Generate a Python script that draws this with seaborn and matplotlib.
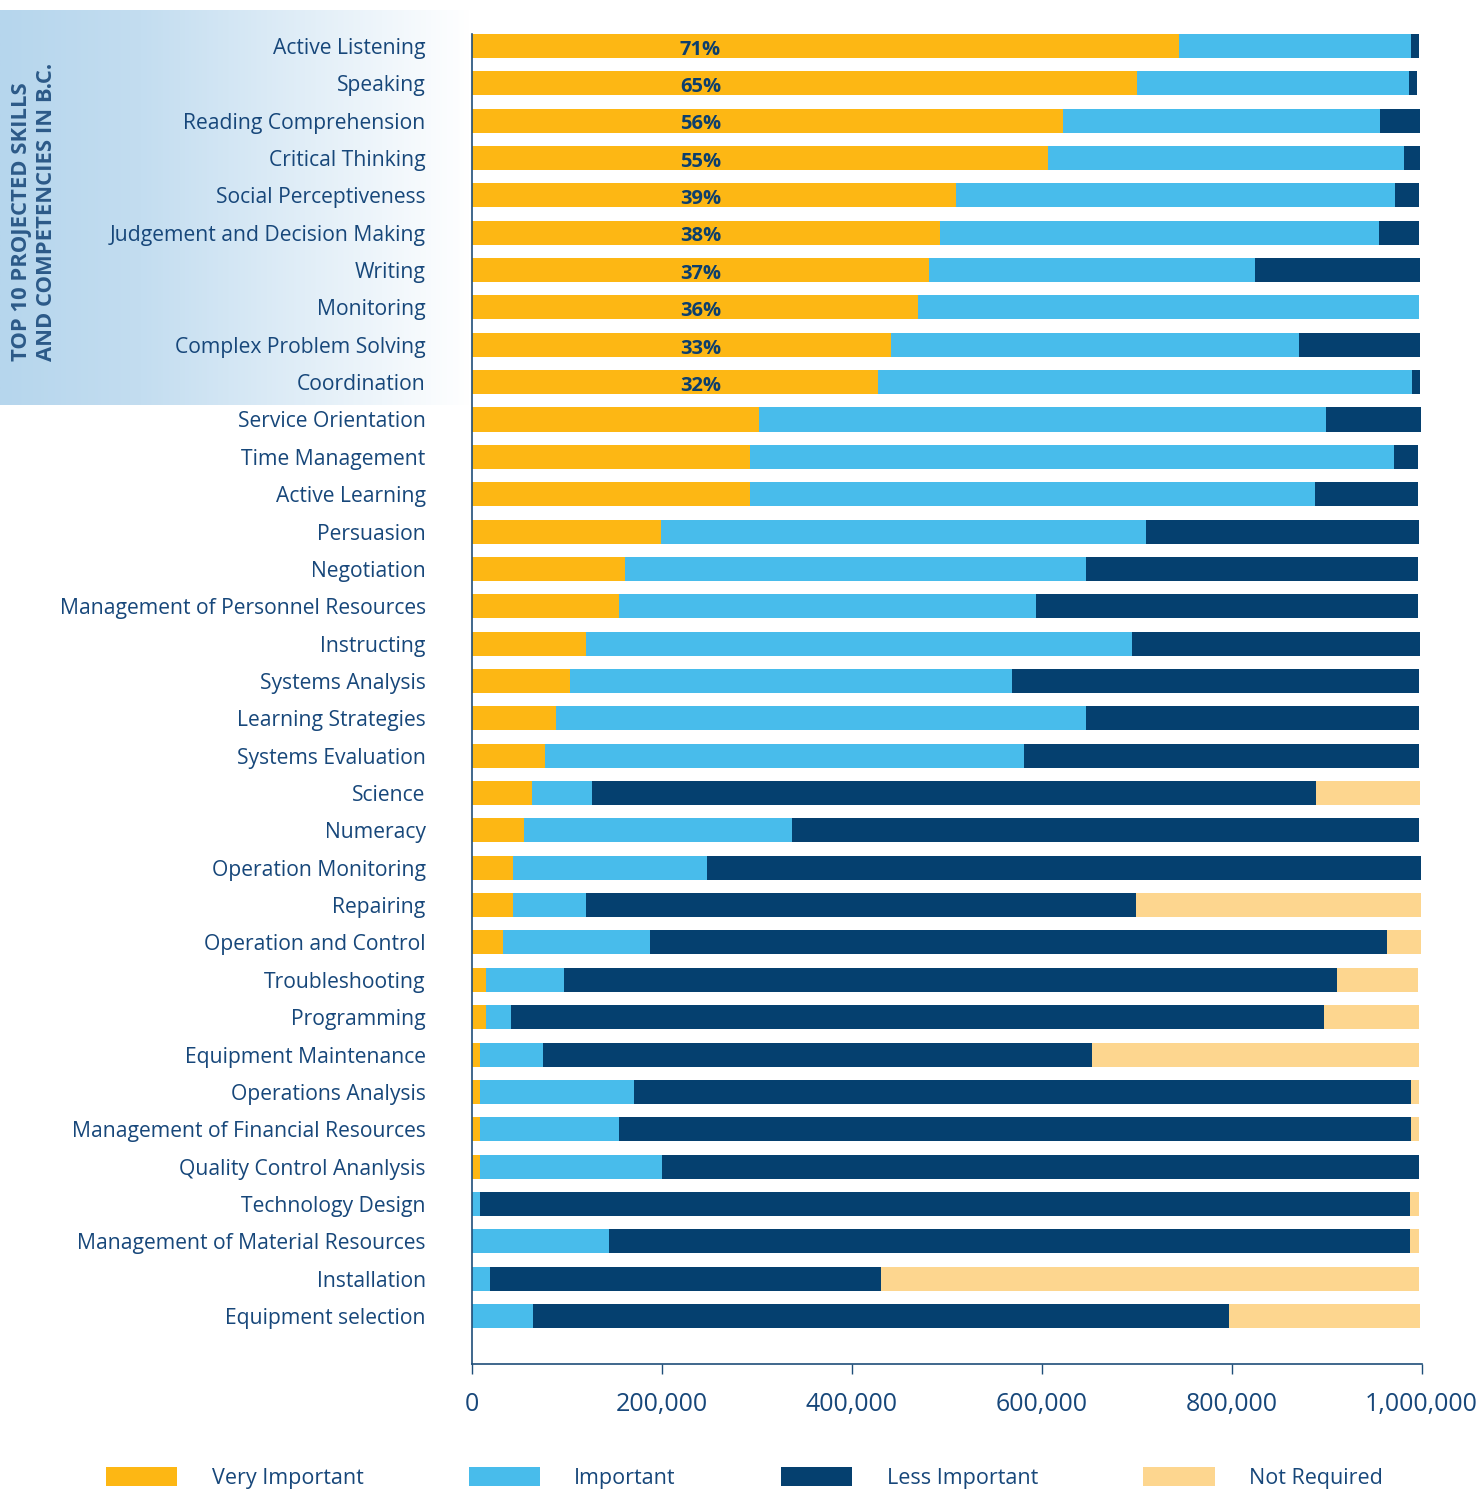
import matplotlib
matplotlib.use("Agg")

import matplotlib.pyplot as plt
import numpy as np
import seaborn as sns
from matplotlib.colors import LinearSegmentedColormap
from matplotlib.patches import Patch
from matplotlib.ticker import StrMethodFormatter

# --- data (workers) ---------------------------------------------------------
skills = [
    "Active Listening", "Speaking", "Reading Comprehension", "Critical Thinking",
    "Social Perceptiveness", "Judgement and Decision Making", "Writing", "Monitoring",
    "Complex Problem Solving", "Coordination", "Service Orientation", "Time Management",
    "Active Learning", "Persuasion", "Negotiation", "Management of Personnel Resources",
    "Instructing", "Systems Analysis", "Learning Strategies", "Systems Evaluation",
    "Science", "Numeracy", "Operation Monitoring", "Repairing", "Operation and Control",
    "Troubleshooting", "Programming", "Equipment Maintenance", "Operations Analysis",
    "Management of Financial Resources", "Quality Control Ananlysis", "Technology Design",
    "Management of Material Resources", "Installation", "Equipment selection",
]
very_important = [
    745000, 700000, 623000, 607000, 510000, 493000, 482000, 470000, 442000, 428000,
    303000, 293000, 293000, 199000, 162000, 155000, 121000, 104000, 89000, 77000,
    64000, 55000, 44000, 44000, 33000, 15000, 15000, 9000, 9000, 9000,
    9000, 0, 1000, 0, 0,
]
important = [
    244000, 287000, 333000, 375000, 462000, 462000, 343000, 527000, 429000, 562000,
    596000, 678000, 595000, 511000, 485000, 439000, 574000, 465000, 558000, 505000,
    63000, 282000, 204000, 76000, 155000, 82000, 27000, 66000, 162000, 146000,
    191000, 9000, 144000, 19000, 65000,
]
less_important = [
    8000, 8000, 42000, 16000, 25000, 42000, 173000, 0, 127000, 8000,
    100000, 25000, 108000, 287000, 349000, 402000, 303000, 428000, 350000, 415000,
    762000, 660000, 751000, 579000, 776000, 814000, 855000, 578000, 818000, 834000,
    797000, 979000, 843000, 412000, 732000,
]
not_required = [
    0, 0, 0, 0, 0, 0, 0, 0, 0, 0,
    0, 0, 0, 0, 0, 0, 0, 0, 0, 0,
    109000, 0, 0, 300000, 35000, 85000, 100000, 344000, 8000, 8000,
    0, 9000, 9000, 566000, 201000,
]
top10_labels = ["71%", "65%", "56%", "55%", "39%", "38%", "37%", "36%", "33%", "32%"]

series_names = ["Very Important", "Important", "Less Important", "Not Required"]
colors = ["#FDB714", "#48BCEB", "#05406F", "#FDD68F"]
navy = "#17477a"

# --- style --------------------------------------------------------------------
sns.set_style("white")
plt.rcParams["font.family"] = ["Open Sans", "DejaVu Sans"]

fig = plt.figure(figsize=(14.78, 14.91), dpi=100)

# gradient panel behind the top-10 labels
bg = fig.add_axes([0, 1 - 405 / 1491, 470 / 1478, 395 / 1491])
grad_cmap = LinearSegmentedColormap.from_list(
    "panel", [(0, "#b6d6ed"), (0.3, "#c3ddf0"), (1, "#ffffff")])
bg.imshow(np.linspace(0, 1, 256)[None, :], aspect="auto", cmap=grad_cmap,
          extent=[0, 1, 0, 1])
bg.set_axis_off()
bg.set_zorder(0)

ax = fig.add_axes([471.5 / 1478, 1 - 1364 / 1491, 950 / 1478, 1330 / 1491])
ax.set_zorder(1)
ax.patch.set_alpha(0)

# stacked bars: draw cumulative totals back to front
stack = np.array([very_important, important, less_important, not_required], dtype=float)
cumulative = stack.cumsum(axis=0)
for level in range(3, -1, -1):
    sns.barplot(x=cumulative[level], y=skills, orient="h", color=colors[level],
                saturation=1, width=0.643, linewidth=0, errorbar=None, ax=ax)

for i, label in enumerate(top10_labels):
    ax.text(241000, i + 0.1, label, ha="center", va="center", fontsize=14.5,
            fontweight="bold", color="#0c3f6e")

ax.set_xlim(0, 1_000_000)
ax.set_ylim(35.285, -0.32)
ax.set_xticks(np.arange(0, 1_000_001, 200_000))
ax.xaxis.set_major_formatter(StrMethodFormatter("{x:,.0f}"))
ax.set_xlabel("")
ax.set_ylabel("")

for side in ["top", "right"]:
    ax.spines[side].set_visible(False)
for side in ["left", "bottom"]:
    ax.spines[side].set_color("#1f4e79")
    ax.spines[side].set_linewidth(1.2)

ax.tick_params(axis="x", direction="out", length=7, width=1, color="#1f4e79",
               pad=13, labelsize=18, labelcolor=navy, bottom=True)
ax.tick_params(axis="y", length=0, pad=33, labelsize=15.2, labelcolor=navy)

# vertical panel title
fig.text(34 / 1478, 1 - 361 / 1491, "TOP 10 PROJECTED SKILLS\nAND COMPETENCIES IN B.C.",
         rotation=90, rotation_mode="anchor", ha="left", va="center",
         multialignment="left", fontsize=15.8, fontweight="bold", color="#2c5a88",
         linespacing=1.2, zorder=5)

handles = [Patch(facecolor=c, edgecolor="none") for c in colors]
fig.legend(handles, series_names, loc="center", bbox_to_anchor=(0.5037, 1 - 1478 / 1491),
           ncol=4, frameon=False, fontsize=15.5, labelcolor=navy,
           handlelength=3.3, handleheight=0.93, handletextpad=1.6, columnspacing=4.9)

fig.savefig("out.png", dpi=100)
